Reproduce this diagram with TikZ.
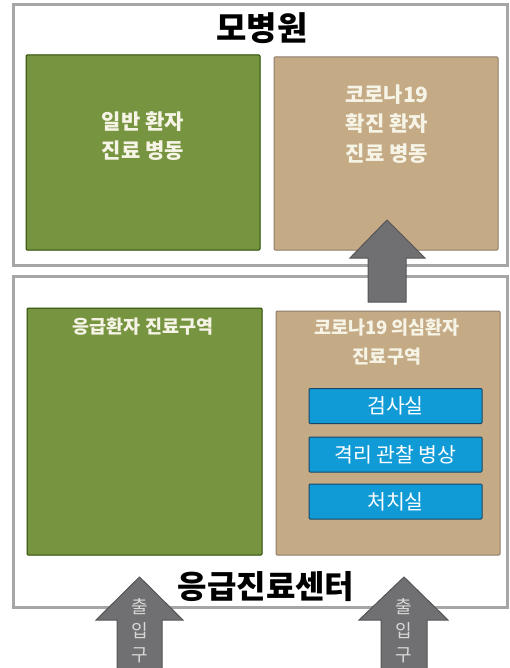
\documentclass[tikz,border=0pt]{standalone}
\usepackage{fontspec}
\newfontfamily\kr{Noto Sans CJK KR}
\begin{document}
\begin{tikzpicture}[x=1pt,y=-1pt,
  outerbox/.style={draw=black!35,line width=3pt,fill=white},
  greenbox/.style={draw=green!20!black!70!olive,line width=1pt,fill=fgreen,rounded corners=1pt},
  tanbox/.style={draw=tanborder,line width=1pt,fill=ftan,rounded corners=1pt},
  bluebox/.style={draw=blueborder,line width=1pt,fill=fblue,rounded corners=1pt,minimum width=173pt,minimum height=35pt,inner sep=0pt,text=white,font=\kr\fontsize{20.5}{22}\selectfont},
  title/.style={font=\kr\bfseries\fontsize{33}{36}\selectfont,text=black},
  intext/.style={font=\kr\bfseries\fontsize{21}{29.5}\selectfont,text=cream,align=center},
  intextsm/.style={font=\kr\bfseries\fontsize{18.5}{29}\selectfont,text=cream,align=center},
  blockarrow/.style={fill=agray,draw=agrayd,line width=1pt,line join=miter},
  arrowtext/.style={font=\kr\fontsize{18}{20}\selectfont,text=black!15}
]
\definecolor{fgreen}{RGB}{119,148,64}
\definecolor{ftan}{RGB}{196,170,133}
\definecolor{tanborder}{RGB}{140,125,105}
\definecolor{fblue}{RGB}{16,155,215}
\definecolor{blueborder}{RGB}{25,70,100}
\definecolor{cream}{RGB}{246,244,230}
\definecolor{agray}{RGB}{112,112,114}
\definecolor{agrayd}{RGB}{85,85,88}
\useasboundingbox (0,0) rectangle (510,668);
\fill[white] (0,0) rectangle (510,668);
% outer boxes
\draw[outerbox] (13,5) rectangle (507,265);
\draw[outerbox] (13,276) rectangle (507,607);
\node[title] (hosp) at (262,28) {모병원};
% top inner boxes
\draw[greenbox] (26,55) rectangle (260,250);
\draw[tanbox] (274,57) rectangle (498,250);
\node[intext] (gen) at (143,136) {일반 환자\\진료 병동};
\node[intext] (cov) at (387,124) {코로나19\\확진 환자\\진료 병동};
% bottom inner boxes
\draw[greenbox] (27,308) rectangle (262,555);
\draw[tanbox] (276,311) rectangle (500,555);
\node[intextsm] (er) at (143,327) {응급환자 진료구역};
\node[intextsm] (sus) at (387,342) {코로나19 의심환자\\진료구역};
\node[bluebox] (b1) at (395.5,406) {검사실};
\node[bluebox] (b2) at (395.5,454.5) {격리 관찰 병상};
\node[bluebox] (b3) at (395.5,501.5) {처치실};
% top arrow
\draw[blockarrow] (387,220) -- (425,258) -- (406,258) -- (406,302) -- (368,302) -- (368,258) -- (350,258) -- cycle;
% bottom arrows
\draw[blockarrow] (139.5,577) -- (183,620) -- (162,620) -- (162,670) -- (117,670) -- (117,620) -- (96,620) -- cycle;
\draw[blockarrow] (404,577) -- (448,620) -- (427,620) -- (427,670) -- (381,670) -- (381,620) -- (359,620) -- cycle;
\node[arrowtext] (e1a) at (139.5,607) {출};
\node[arrowtext] (e1b) at (139.5,631) {입};
\node[arrowtext] (e1c) at (139.5,655) {구};
\node[arrowtext] (e2a) at (404,607) {출};
\node[arrowtext] (e2b) at (404,631) {입};
\node[arrowtext] (e2c) at (404,655) {구};
\node[title,font=\kr\bfseries\fontsize{32}{34}\selectfont] (erc) at (266,587) {응급진료센터};
\end{tikzpicture}
\end{document}
